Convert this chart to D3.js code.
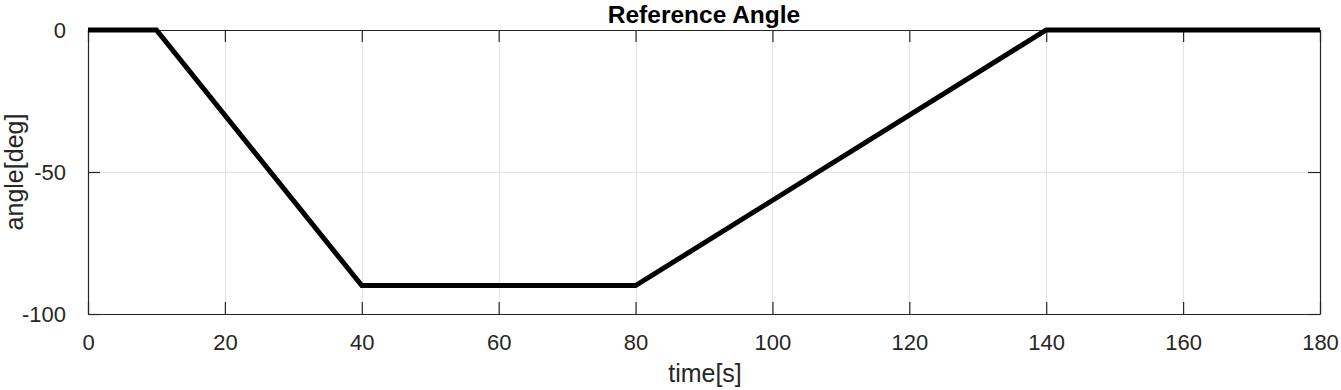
<!DOCTYPE html>
<html>
<head>
<meta charset="utf-8">
<script src="https://cdn.jsdelivr.net/npm/d3@7"></script>
<style>
  body { margin: 0; background: white; }
  text { font-family: "Liberation Sans", Arial, Helvetica, sans-serif; fill: #262626; }
</style>
</head>
<body>
<div class="board"></div>
<script>
var margin = { top: 30, right: 21, bottom: 76, left: 88 },
    width = 1341 - margin.left - margin.right,
    height = 390 - margin.top - margin.bottom;

// data
var time = [0, 10, 40, 80, 140, 180]
var angle = [0, 0, -90, -90, 0, 0]

var xTicks = [0, 20, 40, 60, 80, 100, 120, 140, 160, 180]
var yTicks = [-100, -50, 0]

var TICK_LEN = 12
var AXIS_COLOR = "#262626"
var GRID_COLOR = "#e3e3e3"

var svg = d3.select(".board")
    .append("svg")
    .attr("width", 1341)
    .attr("height", 390)

var g = svg.append("g")
    .attr("transform", `translate(${margin.left}, ${margin.top})`)

var x = d3.scaleLinear().domain([0, 180]).range([0, width])
var y = d3.scaleLinear().domain([-100, 0]).range([height, 0])

// grid
g.selectAll(".xgrid")
    .data(xTicks.slice(1, -1))
    .enter()
    .append("line")
    .attr("stroke", GRID_COLOR)
    .attr("x1", d => Math.round(x(d)) + 0.5)
    .attr("x2", d => Math.round(x(d)) + 0.5)
    .attr("y1", 0)
    .attr("y2", height)

g.selectAll(".ygrid")
    .data(yTicks.slice(1, -1))
    .enter()
    .append("line")
    .attr("stroke", GRID_COLOR)
    .attr("x1", 0)
    .attr("x2", width)
    .attr("y1", d => Math.round(y(d)) + 0.5)
    .attr("y2", d => Math.round(y(d)) + 0.5)

// axes with inward ticks on all four sides (plain hyphen for minus, like the reference)
var fmt = d => String(d)
var bottomAxis = d3.axisBottom(x).tickValues(xTicks).tickSizeInner(-TICK_LEN).tickSizeOuter(0).tickPadding(20).tickFormat(fmt)
var topAxis = d3.axisTop(x).tickValues(xTicks).tickSizeInner(-TICK_LEN).tickSizeOuter(0).tickFormat("")
var leftAxis = d3.axisLeft(y).tickValues(yTicks).tickSizeInner(-TICK_LEN).tickSizeOuter(0).tickPadding(22).tickFormat(fmt)
var rightAxis = d3.axisRight(y).tickValues(yTicks).tickSizeInner(-TICK_LEN).tickSizeOuter(0).tickFormat("")

function styleAxis(sel) {
    sel.selectAll("path").attr("stroke", AXIS_COLOR).attr("stroke-width", 1.2)
    sel.selectAll("line").attr("stroke", AXIS_COLOR).attr("stroke-width", 1.2)
    sel.selectAll("text")
        .attr("fill", AXIS_COLOR)
        .style("font-size", "22px")
        .style("font-family", "'Liberation Sans', Arial, sans-serif")
}

g.append("g").attr("transform", `translate(0, ${height})`).call(bottomAxis).call(styleAxis)
g.append("g").call(topAxis).call(styleAxis)
g.append("g").call(leftAxis).call(styleAxis)
g.append("g").attr("transform", `translate(${width}, 0)`).call(rightAxis).call(styleAxis)

// reference line
var line = d3.line()
    .x(d => x(d[0]))
    .y(d => y(d[1]))

g.append("path")
    .datum(d3.zip(time, angle))
    .attr("fill", "none")
    .attr("stroke", "black")
    .attr("stroke-width", 5)
    .attr("stroke-linejoin", "miter")
    .attr("d", line)

// labels
svg.append("text")
    .attr("x", margin.left + width / 2)
    .attr("y", 23)
    .attr("text-anchor", "middle")
    .style("font-size", "24.5px")
    .style("font-weight", "bold")
    .style("fill", "black")
    .text("Reference Angle")

svg.append("text")
    .attr("x", margin.left + width / 2 + 1)
    .attr("y", 382)
    .attr("text-anchor", "middle")
    .style("font-size", "25px")
    .text("time[s]")

svg.append("text")
    .attr("transform", `translate(23, ${margin.top + height / 2}) rotate(-90)`)
    .attr("text-anchor", "middle")
    .style("font-size", "25px")
    .text("angle[deg]")
</script>
</body>
</html>
